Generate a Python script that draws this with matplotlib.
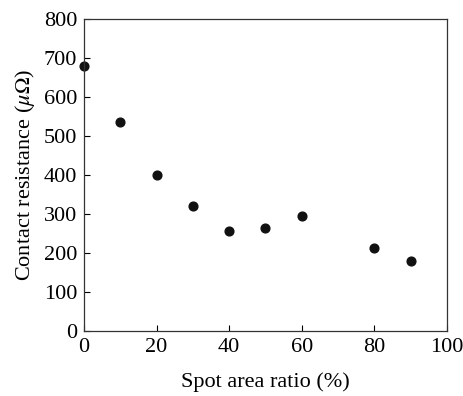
import matplotlib
matplotlib.use("Agg")
import matplotlib.pyplot as plt

plt.rcParams['font.family'] = ['Liberation Serif', 'DejaVu Serif']
plt.rcParams['mathtext.fontset'] = 'stix'

# spot area ratio (%) and contact resistance (micro-ohm)
spot_ratio = [0, 10, 20, 30, 40, 50, 60, 80, 90]
resistance = [680, 535, 401, 321, 256, 265, 296, 212, 180]

fig = plt.figure(figsize=(4.64, 3.96), dpi=100)
ax = fig.add_axes((0.181, 0.164, 0.782, 0.788))

ax.plot(spot_ratio, resistance, 'o', color='#111111', markersize=6.3, clip_on=False)

ax.set_xlim(0, 100)
ax.set_ylim(0, 800)
ax.set_xticks([0, 20, 40, 60, 80, 100])
ax.set_yticks(range(0, 801, 100))
ax.tick_params(direction='in', length=4, width=0.8, labelsize=16, top=False, right=False, pad=5)
for s in ax.spines.values():
    s.set_linewidth(0.9)
    s.set_color('#333333')

ax.set_xlabel('Spot area ratio (%)', fontsize=16, labelpad=11)
ax.set_ylabel(r'Contact resistance ($\mu\Omega$)', fontsize=16, labelpad=5)

fig.savefig('out.png', dpi=100)
